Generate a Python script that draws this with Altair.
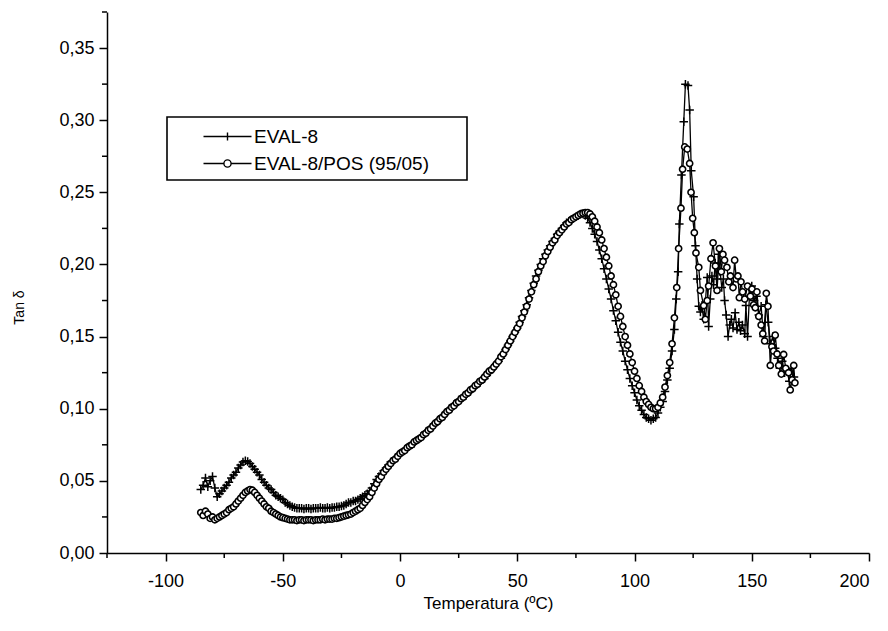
import altair as alt
import pandas as pd

SERIES = ["EVAL-8", "EVAL-8/POS (95/05)"]

# temperatures of the densely sampled part (both series)
T_SMOOTH = [
    -85, -84, -83, -82, -81, -80, -79, -78, -77, -76,
    -75, -74, -73, -72, -71, -70, -69, -68, -67, -66,
    -65, -64, -63, -62, -61, -60, -59, -58, -57, -56,
    -55, -54, -53, -52, -51, -50, -49, -48, -47, -46,
    -45, -44, -43, -42, -41, -40, -39, -38, -37, -36,
    -35, -34, -33, -32, -31, -30, -29, -28, -27, -26,
    -25, -24, -23, -22, -21, -20, -19, -18, -17, -16,
    -15, -14, -13, -12, -11, -10, -9, -8, -7, -6,
    -5, -4, -3, -2, -1, 0, 1, 2, 3, 4,
    5, 6, 7, 8, 9, 10, 11, 12, 13, 14,
    15, 16, 17, 18, 19, 20, 21, 22, 23, 24,
    25, 26, 27, 28, 29, 30, 31, 32, 33, 34,
    35, 36, 37, 38, 39, 40, 41, 42, 43, 44,
    45, 46, 47, 48, 49, 50, 51, 52, 53, 54,
    55, 56, 57, 58, 59, 60, 61, 62, 63, 64,
    65, 66, 67, 68, 69, 70, 71, 72, 73, 74,
    75, 76, 77, 78, 79, 80, 81, 82, 83, 84,
    85, 86, 87, 88, 89, 90, 91, 92, 93, 94,
    95, 96, 97, 98, 99, 100, 101, 102, 103, 104,
    105, 106, 107, 108, 109, 110, 111,
]

V8_SMOOTH = [
    .044, .047, .052, .046, .050, .053, .045, .039, .041, .043,
    .045, .047, .049, .052, .054, .056, .059, .061, .063, .064,
    .0635, .062, .060, .058, .056, .054, .051, .049, .047, .045,
    .044, .042, .040, .039, .038, .037, .035, .034, .033, .032,
    .0315, .031, .031, .031, .0305, .031, .031, .0305, .031, .031,
    .031, .0315, .031, .031, .0315, .031, .0315, .0315, .032, .032,
    .0325, .033, .034, .035, .035, .036, .036, .037, .038, .039,
    .040, .041, .043, .045, .048, .051, .053, .055, .057, .059,
    .061, .063, .064, .066, .067, .069, .070, .072, .073, .074,
    .075, .076, .078, .079, .081, .082, .084, .085, .087, .088,
    .090, .091, .093, .095, .096, .098, .100, .101, .103, .104,
    .106, .107, .108, .109, .111, .112, .114, .115, .117, .118,
    .120, .121, .123, .125, .127, .129, .131, .133, .135, .138,
    .141, .144, .147, .150, .153, .156, .160, .164, .168, .172,
    .177, .182, .187, .192, .196, .200, .204, .207, .210, .213,
    .216, .218, .221, .223, .225, .227, .229, .230, .231, .232,
    .233, .234, .235, .235, .234, .232, .229, .225, .221, .216,
    .210, .204, .197, .190, .183, .176, .168, .161, .153, .146,
    .140, .133, .127, .121, .116, .111, .106, .102, .099, .096,
    .094, .093, .092, .093, .094, .097, .101,
]

VP_SMOOTH = [
    .028, .026, .029, .027, .024, .025, .023, .024, .025, .026,
    .027, .028, .030, .031, .032, .034, .036, .038, .040, .042,
    .043, .044, .0435, .042, .040, .038, .036, .034, .032, .031,
    .029, .028, .027, .026, .025, .0245, .024, .0235, .023, .023,
    .023, .0225, .023, .023, .0225, .023, .023, .023, .0225, .023,
    .023, .023, .0235, .023, .0235, .0235, .0235, .024, .024, .0245,
    .025, .0255, .026, .0265, .027, .028, .029, .030, .031, .033,
    .035, .037, .039, .042, .045, .048, .051, .053, .056, .058,
    .060, .062, .064, .065, .067, .069, .070, .071, .073, .074,
    .075, .077, .078, .079, .080, .082, .083, .085, .086, .088,
    .090, .091, .093, .094, .096, .098, .099, .101, .102, .104,
    .105, .107, .108, .110, .111, .113, .114, .116, .117, .119,
    .120, .122, .124, .126, .127, .129, .131, .133, .136, .138,
    .141, .144, .147, .150, .153, .156, .159, .163, .167, .171,
    .176, .181, .186, .190, .195, .199, .202, .206, .209, .212,
    .215, .217, .220, .222, .224, .226, .228, .229, .231, .232,
    .233, .234, .235, .2355, .236, .236, .235, .233, .230, .226,
    .222, .217, .211, .205, .199, .192, .186, .179, .171, .164,
    .157, .150, .144, .138, .132, .126, .121, .116, .112, .108,
    .105, .103, .101, .100, .100, .101, .104,
]

# sparse / noisy part above ~112 °C
T8_TAIL = [
    112, 113, 114, 115, 116, 117,
    117.8, 118.6, 119.1, 120, 121, 121.7, 122.8, 123.5, 124.2, 125.2,
    126, 126.7, 127.4, 128.1, 128.8, 129.5, 130.2, 131, 131.6, 132.3,
    133, 133.7, 134.4, 135.1, 135.8, 136.5, 137.2, 137.9, 138.4, 139.1,
    139.9, 140.6, 141.3, 142, 142.9, 143.7, 144.5, 145.2, 146, 147,
    147.5, 148.2, 149, 150, 151, 152, 153, 154, 155, 156,
    157, 158, 159, 160, 161, 162, 163, 164, 165, 166, 167, 168,
]
V8_TAIL = [
    .105, .112, .120, .128, .140, .155,
    .176, .195, .228, .262, .299, .325, .324, .307, .265, .247,
    .213, .190, .171, .167, .170, .162, .174, .191, .157, .176,
    .192, .186, .201, .190, .207, .195, .184, .190, .175, .165,
    .150, .158, .162, .156, .1665, .155, .160, .154, .158, .152,
    .1715, .150, .178, .185, .175, .178, .165, .171, .150, .172,
    .160, .145, .150, .142, .135, .128, .133, .125, .127, .119, .128, .122,
]
TP_TAIL = [
    112, 113, 114, 115, 116, 117, 118,
    118.8, 119.8, 120.5, 121.4, 122.5, 123.5, 124.1, 124.8, 125.5, 126.2,
    127.4, 128.1, 129.5, 130.2, 131, 131.6, 132.6, 133.5, 134.5, 135.2,
    136.2, 137, 137.7, 138.4, 139.4, 140.2, 140.9, 142, 142.7, 143.4,
    144.1, 144.7, 145.4, 146.1, 147, 148.2, 149.4, 150.1, 150.8, 151.5,
    152.2, 153, 154, 154.7, 155.5, 156.2, 156.9, 157.9, 158.6, 159.3,
    160, 160.8, 161.5, 162.6, 163.6, 164.5, 165.7, 166.4, 167.2, 167.9, 168.4,
]
VP_TAIL = [
    .108, .115, .123, .132, .145, .163, .184,
    .211, .239, .266, .2815, .280, .270, .250, .232, .222, .208,
    .198, .182, .1715, .162, .175, .185, .204, .215, .199, .182,
    .211, .195, .207, .203, .198, .188, .192, .184, .203, .190,
    .192, .177, .188, .181, .176, .185, .178, .183, .172, .170,
    .181, .164, .158, .152, .147, .180, .171, .130, .143, .140,
    .151, .138, .130, .124, .1376, .128, .125, .113, .120, .130, .118,
]

X_MAJOR = [-100, -50, 0, 50, 100, 150, 200]
X_MINOR = [-125, -75, -25, 25, 75, 125, 175]
Y_MAJOR = [0.0, 0.05, 0.10, 0.15, 0.20, 0.25, 0.30, 0.35]
Y_MINOR = [0.025, 0.075, 0.125, 0.175, 0.225, 0.275, 0.325, 0.375]

assert len(T_SMOOTH) == len(V8_SMOOTH) == len(VP_SMOOTH)
assert len(T8_TAIL) == len(V8_TAIL)
assert len(TP_TAIL) == len(VP_TAIL)

rows = []
for t, v in zip(T_SMOOTH + T8_TAIL, V8_SMOOTH + V8_TAIL):
    rows.append({"series": SERIES[0], "T": t, "V": v})
for t, v in zip(T_SMOOTH + TP_TAIL, VP_SMOOTH + VP_TAIL):
    rows.append({"series": SERIES[1], "T": t, "V": v})
df = pd.DataFrame(rows)

W, H = 762, 541
FONT = "Liberation Sans"

PLUS = "M-1,0L1,0M0,-1L0,1"
PLUS_LEG = "M-6,0L6,0M0,-1L0,1"
CIRC_LEG = "M-6,0L-0.9,0M0.9,0L6,0M-0.9,0A0.9,0.9 0 1,0 0.9,0A0.9,0.9 0 1,0 -0.9,0"

xscale = alt.Scale(domain=[-125, 200], nice=False, zero=False)
yscale = alt.Scale(domain=[0, 0.375], nice=False, zero=False)
xaxis = alt.Axis(values=X_MAJOR, title="Temperatura (ºC)", labelExpr="'' + datum.value",
                 titleFontSize=17, titlePadding=5, labelPadding=11)
yaxis = alt.Axis(values=Y_MAJOR, title="Tan δ",
                 labelExpr="replace(format(datum.value, '.2f'), '.', ',')",
                 titleFontSize=14, titleX=-88, titleY=295, titleBaseline="middle",
                 labelPadding=5)


def X():
    return alt.X("T:Q", scale=xscale, axis=xaxis)


def Y():
    return alt.Y("V:Q", scale=yscale, axis=yaxis)


base = alt.Chart(df)
s8 = base.transform_filter(alt.datum.series == SERIES[0])
sp = base.transform_filter(alt.datum.series == SERIES[1])

line8 = s8.mark_line(color="black", strokeWidth=1.3).encode(x=X(), y=Y())
pts8 = s8.mark_point(shape=PLUS, filled=False, size=72, color="black",
                     strokeWidth=1.5, opacity=1).encode(x=X(), y=Y())
linep = sp.mark_line(color="black", strokeWidth=1.3).encode(x=X(), y=Y())
ptsp = sp.mark_point(shape="circle", filled=True, fill="white", stroke="black",
                     size=38, strokeWidth=1.6, opacity=1).encode(x=X(), y=Y())

xminor = alt.Chart(pd.DataFrame({"T": X_MINOR})).mark_rule(
    color="black", strokeWidth=1.5).encode(x=X(), y=alt.value(H), y2=alt.value(H + 5))
yminor = alt.Chart(pd.DataFrame({"V": Y_MINOR})).mark_rule(
    color="black", strokeWidth=1.5).encode(y=Y(), x=alt.value(0), x2=alt.value(-5))

# legend frame (decoration behind the legend entries)
legend_box = alt.Chart(pd.DataFrame({"box": [1]})).mark_rect(
    fill="white", stroke="black", strokeWidth=1.6).encode(
    x=alt.value(60), x2=alt.value(360), y=alt.value(105), y2=alt.value(168))

legend = alt.Chart(pd.DataFrame({"series": SERIES})).transform_filter("false").mark_point(
    filled=False, color="black", strokeWidth=1.4, opacity=1).encode(
    shape=alt.Shape("series:N",
                    scale=alt.Scale(domain=SERIES, range=[PLUS_LEG, CIRC_LEG]),
                    legend=alt.Legend(title=None, orient="none", legendX=60, legendY=105,
                                      padding=10,
                                      symbolOffset=41, labelOffset=17, rowPadding=7,
                                      labelFont=FONT, labelFontSize=19, labelColor="black",
                                      labelLimit=600,
                                      symbolSize=64, symbolStrokeWidth=1.4,
                                      symbolStrokeColor="black", symbolOpacity=1)))

chart = alt.layer(line8, pts8, linep, ptsp, xminor, yminor, legend_box, legend).properties(
    width=W, height=H,
    autosize=alt.AutoSizeParams(type="none"),
    padding={"left": 99, "top": 4, "right": 10, "bottom": 60},
).configure_view(stroke=None).configure_axis(
    domainColor="black", domainWidth=1.5, tickColor="black", tickWidth=1.5,
    tickSize=8, grid=False, labelFont=FONT, labelFontSize=18, labelColor="black",
    titleFont=FONT, titleColor="black", titleFontWeight="normal",
)

chart.save("out.html", embed_options={"renderer": "svg", "actions": False})
